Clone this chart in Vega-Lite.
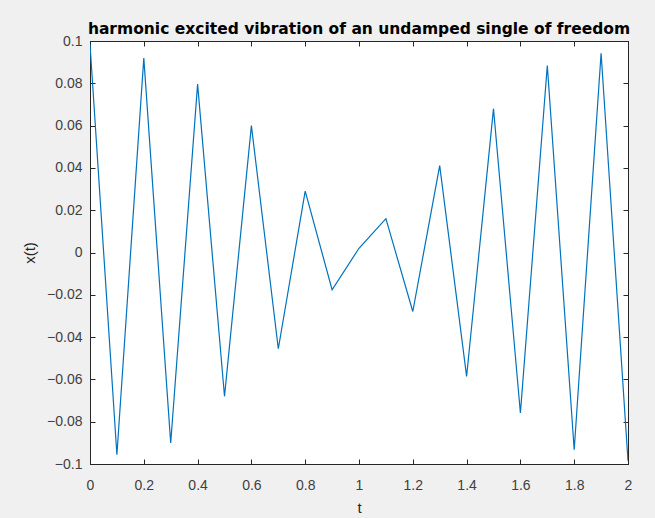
{
  "$schema": "https://vega.github.io/schema/vega-lite/v6.json",
  "width": 538,
  "height": 423,
  "autosize": {"type": "none"},
  "padding": {"left": 90, "top": 41, "right": 27, "bottom": 54},
  "background": "#f0f0f0",
  "title": {
    "text": "harmonic excited vibration of an undamped single of freedom",
    "font": "DejaVu Sans",
    "fontSize": 15.5,
    "fontWeight": "bold",
    "color": "#000000",
    "anchor": "middle",
    "offset": -3
  },
  "config": {
    "view": {"fill": "white", "stroke": "#262626", "strokeWidth": 1},
    "axis": {
      "labelFont": "Liberation Sans",
      "labelFontSize": 14,
      "labelColor": "#404040",
      "titleFont": "Liberation Sans",
      "titleFontSize": 15,
      "titleFontWeight": "normal",
      "titleColor": "#262626",
      "domainColor": "#262626",
      "tickColor": "#262626",
      "tickSize": -5,
      "labelFlush": false,
      "grid": false
    }
  },
  "data": {
    "values": [
      {"t": 0.0, "x": 0.0985},
      {"t": 0.1, "x": -0.0956},
      {"t": 0.2, "x": 0.0919},
      {"t": 0.3, "x": -0.0901},
      {"t": 0.4, "x": 0.0796},
      {"t": 0.5, "x": -0.068},
      {"t": 0.6, "x": 0.060},
      {"t": 0.7, "x": -0.0455},
      {"t": 0.8, "x": 0.029},
      {"t": 0.9, "x": -0.0176},
      {"t": 1.0, "x": 0.002},
      {"t": 1.1, "x": 0.016},
      {"t": 1.2, "x": -0.0279},
      {"t": 1.3, "x": 0.0411},
      {"t": 1.4, "x": -0.0586},
      {"t": 1.5, "x": 0.068},
      {"t": 1.6, "x": -0.0759},
      {"t": 1.7, "x": 0.0884},
      {"t": 1.8, "x": -0.0933},
      {"t": 1.9, "x": 0.0942},
      {"t": 2.0, "x": -0.0985}
    ]
  },
  "layer": [
    {
      "mark": {"type": "line", "color": "#0072BD", "strokeWidth": 1.2, "clip": true},
      "encoding": {
        "x": {
          "field": "t", "type": "quantitative",
          "scale": {"domain": [0, 2], "nice": false, "zero": false},
          "axis": {"values": [0, 0.2, 0.4, 0.6, 0.8, 1, 1.2, 1.4, 1.6, 1.8, 2], "format": "~g", "title": "t", "labelPadding": 19, "titlePadding": 8, "orient": "bottom"}
        },
        "y": {
          "field": "x", "type": "quantitative",
          "scale": {"domain": [-0.1, 0.1], "nice": false, "zero": false},
          "axis": {"values": [-0.1, -0.08, -0.06, -0.04, -0.02, 0, 0.02, 0.04, 0.06, 0.08, 0.1], "format": "~g", "title": "x(t)", "labelPadding": 13, "titlePadding": 9, "orient": "left"}
        }
      }
    },
    {
      "mark": {"type": "line", "opacity": 0},
      "encoding": {
        "x": {
          "field": "t", "type": "quantitative",
          "scale": {"domain": [0, 2], "nice": false, "zero": false},
          "axis": {"values": [0, 0.2, 0.4, 0.6, 0.8, 1, 1.2, 1.4, 1.6, 1.8, 2], "labels": false, "title": null, "orient": "top"}
        },
        "y": {
          "field": "x", "type": "quantitative",
          "scale": {"domain": [-0.1, 0.1], "nice": false, "zero": false},
          "axis": {"values": [-0.1, -0.08, -0.06, -0.04, -0.02, 0, 0.02, 0.04, 0.06, 0.08, 0.1], "labels": false, "title": null, "orient": "right"}
        }
      }
    }
  ],
  "resolve": {"axis": {"x": "independent", "y": "independent"}}
}
